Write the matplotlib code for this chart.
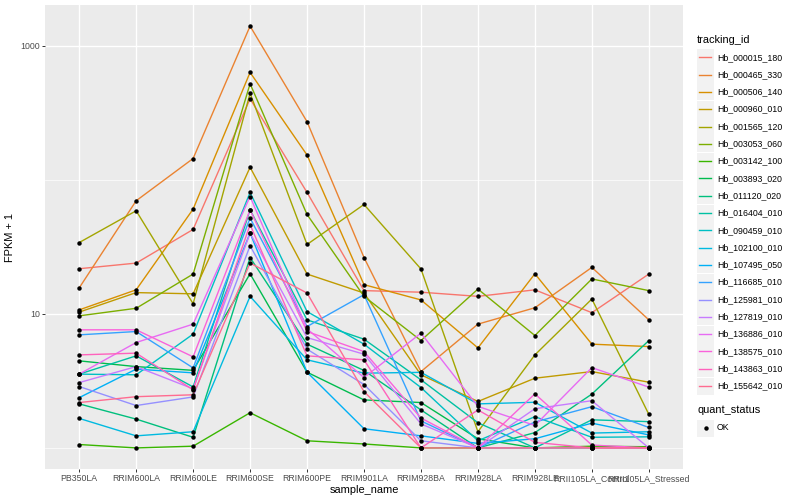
import numpy as np
import matplotlib
matplotlib.use("Agg")
import matplotlib.pyplot as plt
from matplotlib.lines import Line2D
from matplotlib.patches import Rectangle

plt.rcParams['font.family'] = ['Liberation Sans', 'DejaVu Sans']

samples = ['PB350LA', 'RRIM600LA', 'RRIM600LE', 'RRIM600SE', 'RRIM600PE', 'RRIM901LA',
           'RRIM928BA', 'RRIM928LA', 'RRIM928LE', 'RRII105LA_Control', 'RRII105LA_Stressed']

tracking_ids = ['Hb_000015_180', 'Hb_000465_330', 'Hb_000506_140', 'Hb_000960_010',
                'Hb_001565_120', 'Hb_003053_060', 'Hb_003142_100', 'Hb_003893_020',
                'Hb_011120_020', 'Hb_016404_010', 'Hb_090459_010', 'Hb_102100_010',
                'Hb_107495_050', 'Hb_116685_010', 'Hb_125981_010', 'Hb_127819_010',
                'Hb_136886_010', 'Hb_138575_010', 'Hb_143863_010', 'Hb_155642_010']

# FPKM + 1, one row per tracking_id, columns follow samples
fpkm = [
    [21.7, 23.9, 42.6, 402, 80.4, 14.9, 14.5, 13.5, 15.1, 10.2, 19.8],
    [15.6, 69.7, 144, 1400, 271, 26.3, 3.71, 8.38, 11.1, 22.2, 9.02],
    [10.7, 15.1, 60.4, 632, 153, 16.5, 12.7, 5.57, 19.9, 5.94, 5.70],
    [10.3, 14.4, 14.1, 124, 19.8, 14.3, 3.51, 2.22, 3.31, 3.71, 3.09],
    [34.0, 58.7, 11.9, 441, 32.9, 65.4, 21.6, 1.32, 4.94, 12.9, 1.78],
    [9.66, 11.0, 19.8, 520, 55.1, 13.5, 6.32, 15.3, 6.89, 18.2, 14.9],
    [1.06, 1.0, 1.03, 1.83, 1.13, 1.07, 1.0, 1.0, 1.0, 1.03, 1.02],
    [4.46, 4.04, 3.79, 19.9, 3.67, 2.28, 2.18, 1.17, 1.0, 1.0, 1.0],
    [2.13, 1.64, 1.20, 26.3, 5.94, 3.78, 1.92, 1.0, 1.30, 2.52, 6.32],
    [3.55, 4.86, 2.85, 59.7, 9.02, 6.47, 3.22, 1.54, 1.0, 1.62, 1.57],
    [3.55, 3.51, 7.06, 80.4, 10.4, 5.94, 2.82, 1.13, 1.71, 1.20, 1.21],
    [1.66, 1.23, 1.32, 13.5, 4.54, 3.61, 3.66, 2.13, 2.19, 1.29, 1.32],
    [2.37, 3.87, 3.63, 40.0, 3.67, 1.39, 1.23, 1.08, 1.17, 1.53, 1.25],
    [6.97, 7.38, 3.95, 51.8, 8.04, 13.9, 1.59, 1.0, 1.56, 2.03, 1.42],
    [2.87, 2.07, 2.40, 32.2, 5.45, 2.97, 1.13, 1.0, 1.0, 1.0, 1.0],
    [3.07, 4.04, 2.76, 40.0, 6.65, 5.00, 1.51, 1.0, 1.96, 2.25, 1.0],
    [3.55, 6.11, 8.38, 75.0, 7.73, 3.35, 7.18, 2.04, 1.47, 3.97, 2.84],
    [7.60, 7.60, 4.78, 59.7, 7.38, 5.23, 1.67, 1.0, 2.53, 1.05, 1.0],
    [4.94, 5.09, 2.71, 46.2, 4.86, 4.54, 1.0, 1.92, 1.10, 1.0, 1.0],
    [2.18, 2.41, 2.49, 23.9, 14.3, 2.63, 1.0, 1.0, 1.0, 1.0, 1.0],
]

# ggplot2 default hue palette for 20 levels
colors = ['#F8766D', '#EA8331', '#D89000', '#C09B00', '#A3A500', '#7CAE00', '#39B600',
          '#00BB4E', '#00BF7D', '#00C1A3', '#00BFC4', '#00BAE0', '#00B0F6', '#35A2FF',
          '#9590FF', '#C77CFF', '#E76BF3', '#FA62DB', '#FF62BC', '#FF6C91']

fig = plt.figure(figsize=(8, 5), dpi=100)
ax = fig.add_axes([45 / 800, 1 - 469 / 500, (683 - 45) / 800, (469 - 5) / 500])
ax.set_facecolor('#EBEBEB')

x = np.arange(len(samples))
for vals, col in zip(fpkm, colors):
    ax.plot(x, vals, color=col, lw=1.0, zorder=3)
for vals in fpkm:
    ax.plot(x, vals, 'o', color='black', ms=3.2, zorder=4, mec='black', mew=0)

ax.set_yscale('log')
lo = np.log10(np.min(fpkm))
hi = np.log10(np.max(fpkm))
pad = 0.05 * (hi - lo)
ax.set_ylim(10 ** (lo - pad), 10 ** (hi + pad))
ax.set_xlim(-0.6, len(samples) - 0.4)

ax.set_yticks([10, 1000])
ax.set_yticklabels(['10', '1000'])
ax.set_yticks([1, 100], minor=True)
ax.yaxis.set_minor_formatter(plt.NullFormatter())
ax.set_xticks(x)
ax.set_xticklabels(samples)

ax.grid(True, which='major', color='white', lw=1.0, zorder=0)
ax.grid(True, which='minor', axis='y', color='white', lw=0.5, zorder=0)
ax.set_axisbelow(True)
for s in ax.spines.values():
    s.set_visible(False)
ax.tick_params(which='major', length=2.2, width=0.7, color='#333333',
               labelsize=6.3, labelcolor='#4D4D4D', pad=1.6)
ax.tick_params(which='minor', length=0)

ax.set_xlabel('sample_name', fontsize=7.9, labelpad=1.5)
ax.set_ylabel('FPKM + 1', fontsize=7.9, labelpad=4)

# legend drawn in pixel coordinates
def fx(px):
    return px / 800

def fy(py):
    return 1 - py / 500

fig.text(fx(697), fy(40), 'tracking_id', fontsize=7.9, va='center', ha='left')
for i, (tid, col) in enumerate(zip(tracking_ids, colors)):
    cy = 57.3 + 17.3 * i
    fig.add_artist(Rectangle((fx(697), fy(cy + 8.5)), 17 / 800, 17 / 500,
                             transform=fig.transFigure, facecolor='#F2F2F2', edgecolor='none'))
    fig.add_artist(Line2D([fx(699), fx(711)], [fy(cy), fy(cy)], color=col, lw=1.0,
                          transform=fig.transFigure))
    fig.text(fx(717), fy(cy), tid, fontsize=6.3, va='center', ha='left')

fig.text(fx(697), fy(410), 'quant_status', fontsize=7.9, va='center', ha='left')
fig.add_artist(Rectangle((fx(697), fy(428 + 8.5)), 17 / 800, 17 / 500,
                         transform=fig.transFigure, facecolor='#F2F2F2', edgecolor='none'))
fig.add_artist(Line2D([fx(705.5)], [fy(428)], marker='o', color='black', ms=3.2, mew=0,
                      transform=fig.transFigure))
fig.text(fx(717), fy(428), 'OK', fontsize=6.3, va='center', ha='left')

fig.savefig('out.png', dpi=100)
